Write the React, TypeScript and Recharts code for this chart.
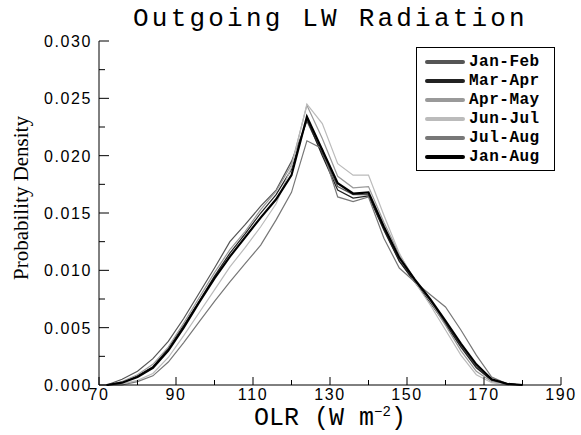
import React from "react";
import { Label, Legend, Line, LineChart, XAxis, YAxis } from "recharts";

// OLR bins (W m^-2)
const olr = [72, 76, 80, 84, 88, 92, 96, 100, 104, 108, 112, 116, 120, 124, 128, 132, 136, 140, 144, 148, 152, 156, 160, 164, 168, 172, 176, 180];

// probability density, x 1e-3
const janFeb = [0, 0.5, 1.2, 2.3, 3.8, 5.8, 8.0, 10.2, 12.5, 14.0, 15.6, 17.0, 19.5, 23.0, 20.2, 17.3, 16.6, 16.6, 13.6, 10.8, 9.0, 7.4, 5.4, 3.4, 1.6, 0.4, 0.1, 0];
const marApr = [0, 0.2, 0.8, 1.6, 3.2, 5.2, 7.3, 9.5, 11.5, 13.2, 15.0, 16.6, 18.8, 23.2, 20.0, 17.0, 16.3, 16.5, 13.5, 10.8, 9.0, 7.2, 5.3, 3.3, 1.5, 0.4, 0.1, 0];
const aprMay = [0, 0.3, 0.9, 1.8, 3.3, 5.4, 7.6, 9.8, 11.8, 13.4, 15.3, 16.9, 19.2, 24.4, 21.5, 18.2, 17.2, 17.3, 14.2, 11.4, 9.2, 7.3, 5.2, 3.0, 1.2, 0.3, 0.1, 0];
const junJul = [0, 0.1, 0.4, 1.0, 2.4, 4.3, 6.3, 8.3, 10.3, 12.0, 13.8, 15.8, 19.0, 24.5, 22.8, 19.3, 18.3, 18.3, 14.8, 11.5, 9.0, 7.0, 4.8, 2.6, 0.9, 0.2, 0, 0];
const julAug = [0, 0, 0.3, 0.8, 2.0, 3.7, 5.5, 7.3, 9.0, 10.6, 12.2, 14.4, 16.8, 21.3, 20.6, 16.4, 16.0, 16.4, 12.8, 10.2, 9.0, 7.9, 6.8, 4.8, 2.6, 0.7, 0.1, 0];
const janAug = [0, 0.2, 0.7, 1.5, 3.0, 5.0, 7.2, 9.3, 11.2, 12.9, 14.6, 16.2, 18.3, 23.4, 20.5, 17.6, 16.7, 16.8, 13.8, 11.1, 9.2, 7.5, 5.6, 3.6, 1.8, 0.5, 0.1, 0];

const xTicks = [70, 80, 90, 100, 110, 120, 130, 140, 150, 160, 170, 180, 190];
const yTicks = [0, 0.0025, 0.005, 0.0075, 0.01, 0.0125, 0.015, 0.0175, 0.02, 0.0225, 0.025, 0.0275, 0.03];

const series = [
  { key: "Jan-Feb", values: janFeb, color: "#555555", width: 1.2 },
  { key: "Mar-Apr", values: marApr, color: "#222222", width: 1.2 },
  { key: "Apr-May", values: aprMay, color: "#999999", width: 1.2 },
  { key: "Jun-Jul", values: junJul, color: "#bbbbbb", width: 1.2 },
  { key: "Jul-Aug", values: julAug, color: "#777777", width: 1.2 },
  { key: "Jan-Aug", values: janAug, color: "#000000", width: 2.2 },
];

const data = olr.map((x, i) => {
  const row: Record<string, number> = { olr: x };
  series.forEach((s) => (row[s.key] = s.values[i] / 1000));
  return row;
});

const tickFont = { fontFamily: "'Liberation Sans', Arial, sans-serif", fontSize: 16, letterSpacing: 1.6 };

function isMajorX(v: number) {
  return (v - 70) % 20 === 0;
}
function isMajorY(v: number) {
  return Math.abs(Math.round(v / 0.005) * 0.005 - v) < 1e-9;
}

function BottomTick(props: any) {
  const { x, y, payload } = props;
  const major = isMajorX(payload.value);
  return (
    <g>
      <line x1={x} x2={x} y1={y} y2={y - (major ? 8 : 5)} stroke="#000" />
      {major && (
        <text x={x} y={y + 15} textAnchor="middle" fill="#000" style={tickFont}>
          {payload.value}
        </text>
      )}
    </g>
  );
}

function TopTick(props: any) {
  const { x, y, payload } = props;
  const major = isMajorX(payload.value);
  return <line x1={x} x2={x} y1={y} y2={y + (major ? 8 : 5)} stroke="#000" />;
}

function LeftTick(props: any) {
  const { x, y, payload } = props;
  const major = isMajorY(payload.value);
  return (
    <g>
      <line x1={x} x2={x + (major ? 10 : 6)} y1={y} y2={y} stroke="#000" />
      {major && (
        <text x={x - 7} y={y + 6} textAnchor="end" fill="#000" style={tickFont}>
          {payload.value.toFixed(3)}
        </text>
      )}
    </g>
  );
}

function RightTick(props: any) {
  const { x, y, payload } = props;
  const major = isMajorY(payload.value);
  return <line x1={x} x2={x - (major ? 10 : 6)} y1={y} y2={y} stroke="#000" />;
}

function LegendBox() {
  return (
    <div style={{ border: "1px solid #000", background: "#fff", padding: "4px 0 4px 0", width: 137 }}>
      {series.map((s) => (
        <div key={s.key} style={{ display: "flex", alignItems: "center", height: 19 }}>
          <svg width={52} height={10}>
            <line x1={10} x2={46} y1={5} y2={5} stroke={s.color} strokeWidth={4} strokeLinecap="round" />
          </svg>
          <span style={{ fontFamily: "'Liberation Mono', monospace", fontWeight: "bold", fontSize: 16, letterSpacing: 0.5, color: "#000" }}>
            {s.key}
          </span>
        </div>
      ))}
    </div>
  );
}

export default function App() {
  return (
    <div style={{ position: "absolute", left: 0, top: 0, width: 581, height: 435, background: "#fff" }}>
      <div
        style={{
          position: "absolute",
          left: 0,
          width: 581,
          top: 4,
          textAlign: "center",
          paddingLeft: 80,
          boxSizing: "border-box",
          fontFamily: "'Liberation Mono', monospace",
          fontSize: 26,
          letterSpacing: 3.2,
          lineHeight: "30px",
        }}
      >
        Outgoing LW Radiation
      </div>
      <LineChart width={581} height={435} data={data} margin={{ top: 41, right: 20, bottom: 0, left: 0 }}>
        <XAxis
          dataKey="olr"
          type="number"
          domain={[70, 190]}
          ticks={xTicks}
          interval={0}
          height={50}
          tickSize={0}
          tickMargin={0}
          tickLine={false}
          stroke="#000"
          tick={<BottomTick />}
        >
          <Label
            content={(p: any) => {
              const vb = p.viewBox;
              return (
                <text x={vb.x + vb.width / 2} y={425} textAnchor="middle" fill="#000" style={{ fontFamily: "'Liberation Mono', monospace", fontSize: 25 }}>
                  OLR (W m
                  <tspan dy={-9} fontSize={14}>−2</tspan>
                  <tspan dy={9}>)</tspan>
                </text>
              );
            }}
          />
        </XAxis>
        <XAxis
          xAxisId="top"
          orientation="top"
          dataKey="olr"
          type="number"
          domain={[70, 190]}
          ticks={xTicks}
          interval={0}
          height={0}
          tickSize={0}
          tickMargin={0}
          tickLine={false}
          stroke="#000"
          tick={<TopTick />}
        />
        <YAxis
          type="number"
          domain={[0, 0.03]}
          ticks={yTicks}
          interval={0}
          width={99}
          tickSize={0}
          tickMargin={0}
          tickLine={false}
          stroke="#000"
          tick={<LeftTick />}
        >
          <Label
            content={() => (
              <text
                x={28}
                y={198}
                transform="rotate(-90 28 198)"
                textAnchor="middle"
                fill="#000"
                style={{ fontFamily: "'Liberation Serif', 'Times New Roman', serif", fontSize: 21 }}
              >
                Probability Density
              </text>
            )}
          />
        </YAxis>
        <YAxis
          yAxisId="right"
          orientation="right"
          type="number"
          domain={[0, 0.03]}
          ticks={yTicks}
          interval={0}
          width={0}
          tickSize={0}
          tickMargin={0}
          tickLine={false}
          stroke="#000"
          tick={<RightTick />}
        />
        <Legend
          layout="horizontal"
          verticalAlign="middle"
          align="center"
          content={<LegendBox />}
          wrapperStyle={{ left: 416, top: 47, width: 139, right: "auto", bottom: "auto" }}
        />
        {series.map((s) => (
          <Line
            key={s.key}
            dataKey={s.key}
            name={s.key}
            type="linear"
            stroke={s.color}
            strokeWidth={s.width}
            dot={false}
            activeDot={false}
            isAnimationActive={false}
          />
        ))}
      </LineChart>
    </div>
  );
}
